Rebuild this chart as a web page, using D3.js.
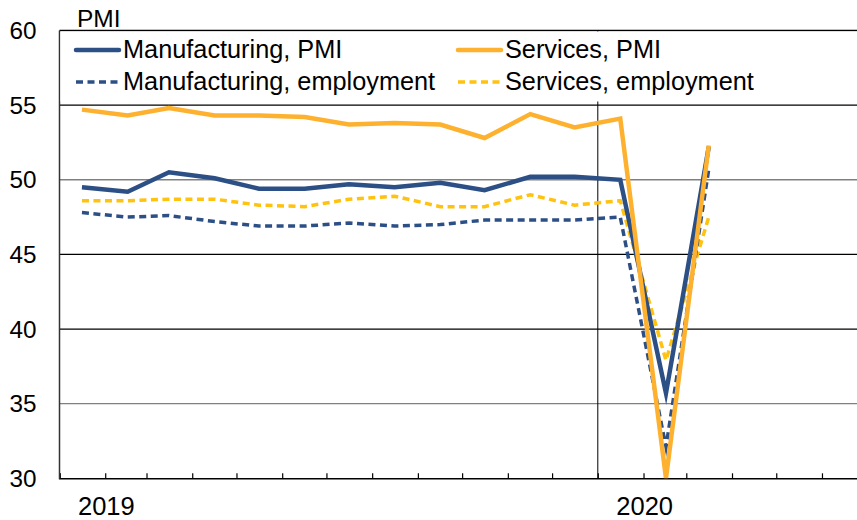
<!DOCTYPE html>
<html><head><meta charset="utf-8">
<script src="https://cdn.jsdelivr.net/npm/d3@7"></script>
<style>body{margin:0;background:#fff}svg{display:block;font-family:"Liberation Sans",Arial,sans-serif}</style>
</head><body><svg id="c" width="857" height="520"></svg>
<script>
const months = ["2019-01","2019-02","2019-03","2019-04","2019-05","2019-06","2019-07","2019-08","2019-09","2019-10","2019-11","2019-12","2020-01","2020-02","2020-03"];
const manufPMI = [49.5,49.2,50.5,50.1,49.4,49.4,49.7,49.5,49.8,49.3,50.2,50.2,50.0,35.7,52.2];
const servPMI = [54.7,54.3,54.8,54.3,54.3,54.2,53.7,53.8,53.7,52.8,54.4,53.5,54.1,30.0,52.3];
const manufEmp = [47.8,47.5,47.6,47.2,46.9,46.9,47.1,46.9,47.0,47.3,47.3,47.3,47.5,32.1,50.7];
const servEmp = [48.6,48.6,48.7,48.7,48.3,48.2,48.7,48.9,48.2,48.2,49.0,48.3,48.6,37.9,47.5];
const yTicks = [30,35,40,45,50,55,60];
const yearLabels = ["2019","2020"];
const seriesNames = ["Manufacturing, PMI","Services, PMI","Manufacturing, employment","Services, employment"];

(function(){
const svg = d3.select("#c");
const pLeft = 59.5, pTop = 30.5, pBottom = 478.3, monthW = 44.92;
const parse = d3.timeParse("%Y-%m");
const x = d3.scaleTime().domain([parse("2019-01"), parse("2021-01")]).range([pLeft, pLeft + 24*monthW]);
const y = d3.scaleLinear().domain([30,60]).range([pBottom, pTop]);
const mid = s => { const d = parse(s); return x(d) + monthW/2; };

svg.append("defs").append("clipPath").attr("id","clip").append("rect")
  .attr("x", pLeft).attr("y", pTop-5).attr("width", 857-pLeft).attr("height", pBottom-pTop+5);

const gridColor = {60:"#000",55:"#000",50:"#808080",45:"#000",40:"#000",35:"#808080"};
svg.append("g").selectAll("line").data(yTicks.filter(t=>t>30)).join("line")
  .attr("x1", pLeft).attr("x2", 857).attr("y1", d=>y(d)).attr("y2", d=>y(d))
  .attr("stroke", d=>gridColor[d]).attr("stroke-width", d=>d===60?1.5:d===50?1.6:1.2);

svg.append("line").attr("x1", x(parse("2020-01"))).attr("x2", x(parse("2020-01")))
  .attr("y1", pTop).attr("y2", pBottom).attr("stroke","#000").attr("stroke-width",1);

svg.append("g").selectAll("text").data(yTicks).join("text")
  .attr("x", 36.5).attr("y", d=>y(d)+8.5).attr("text-anchor","end")
  .attr("font-size", 24.3).attr("fill","#000").text(d=>d);
svg.append("text").attr("x", 77).attr("y", 27).attr("font-size", 24.5).text("PMI");

const xAxis = d3.axisBottom(x).ticks(d3.timeMonth.every(1)).tickSize(-5).tickFormat("");
const gx = svg.append("g").attr("transform", `translate(0,${pBottom})`).call(xAxis);
gx.select(".domain").attr("stroke","#000").attr("stroke-width",1.5);
gx.selectAll(".tick line").attr("stroke","#000").attr("stroke-width",1.2);
svg.append("line").attr("x1", pLeft).attr("x2", pLeft).attr("y1", pTop).attr("y2", pBottom+1)
  .attr("stroke","#333").attr("stroke-width",1.5);
svg.append("g").selectAll("text").data(yearLabels).join("text")
  .attr("x", d=>x(parse(d+"-01"))+18.5).attr("y", 515).attr("font-size", 25.5).text(d=>d);

svg.append("rect").attr("x", pLeft+1).attr("y", pTop+1).attr("width", 857-pLeft).attr("height", 70).attr("fill","#fff");

const blue = "#2C4F85", orange = "#FDB12E", yellow = "#FFC20E";
const styles = [
  {data: servEmp, color: yellow, w: 3.5, dash: "7,4.5"},
  {data: manufEmp, color: blue, w: 3.5, dash: "7,4.5"},
  {data: manufPMI, color: blue, w: 4.5, dash: null},
  {data: servPMI, color: orange, w: 4.5, dash: null}
];
const line = d3.line().x((d,i)=>mid(months[i])).y(d=>y(d));
const gl = svg.append("g").attr("clip-path","url(#clip)");
styles.forEach(s => {
  gl.append("path").datum(s.data).attr("d", line).attr("fill","none")
    .attr("stroke", s.color).attr("stroke-width", s.w)
    .attr("stroke-dasharray", s.dash).attr("stroke-linejoin","miter").attr("stroke-miterlimit",10);
});

const leg = [
  {name: seriesNames[0], color: blue, w: 4.5, dash: null, lx: 76, ty: 58},
  {name: seriesNames[1], color: orange, w: 4.5, dash: null, lx: 458, ty: 58},
  {name: seriesNames[2], color: blue, w: 3.5, dash: "7,4.5", lx: 76, ty: 90},
  {name: seriesNames[3], color: yellow, w: 3.5, dash: "7,4.5", lx: 458, ty: 90}
];
leg.forEach(l => {
  svg.append("line").attr("x1", l.lx).attr("x2", l.lx+43).attr("y1", l.ty-8).attr("y2", l.ty-8)
    .attr("stroke", l.color).attr("stroke-width", l.w).attr("stroke-dasharray", l.dash)
    .attr("stroke-linecap", l.dash ? "butt" : "round");
  svg.append("text").attr("x", l.lx+47).attr("y", l.ty).attr("font-size", 25.3).text(l.name);
});
})();
</script></body></html>
